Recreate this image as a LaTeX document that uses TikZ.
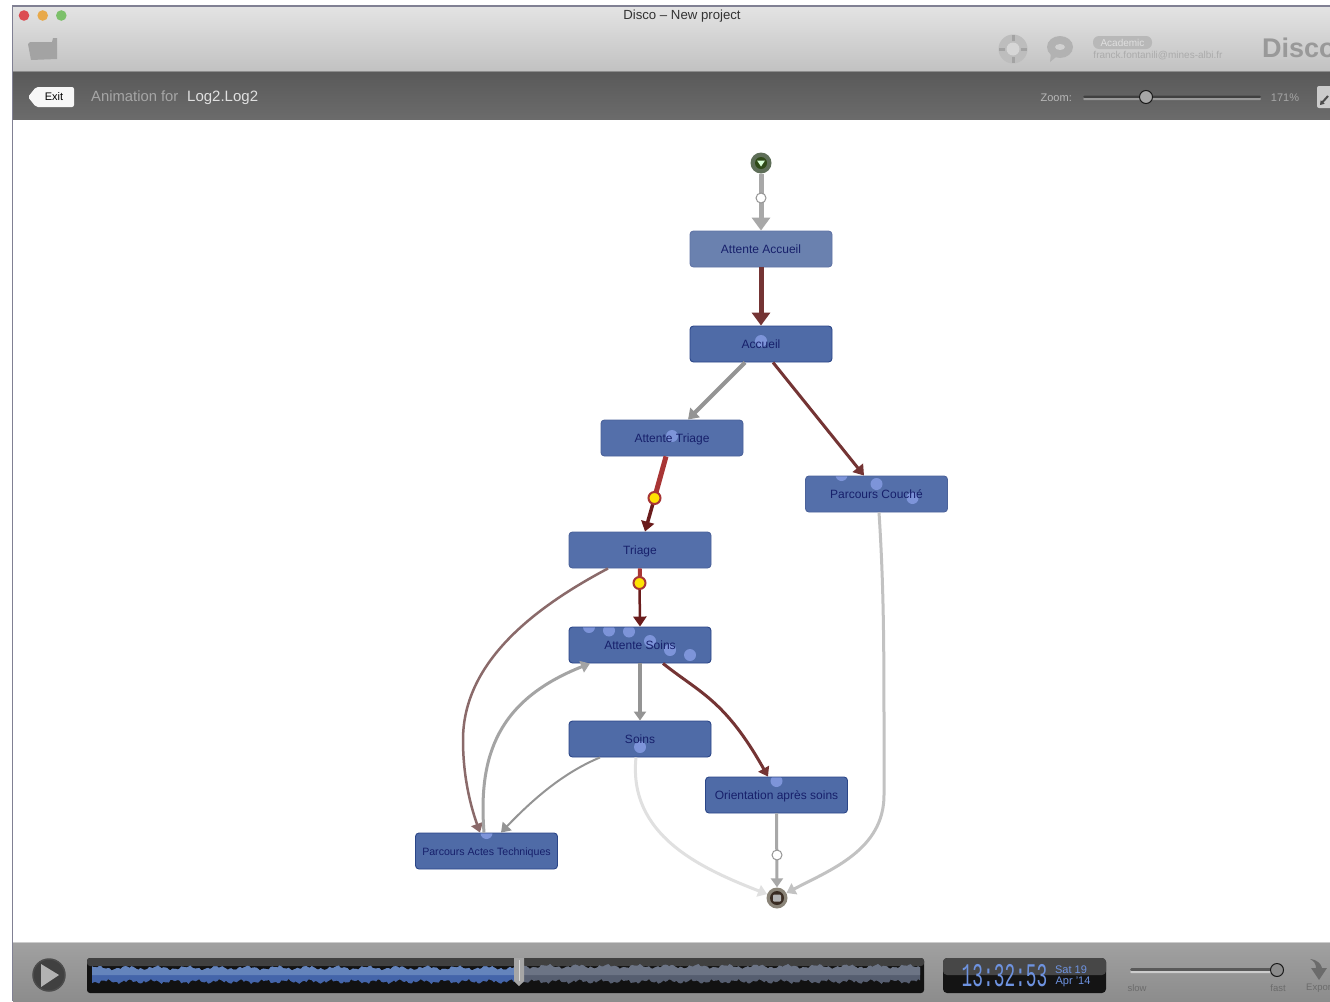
\documentclass[tikz,border=0pt]{standalone}
\usepackage{fontspec}
\setmainfont{Liberation Sans}
\newfontfamily\clockfont{Liberation Mono}
\usetikzlibrary{arrows.meta,calc}
\definecolor{nodefill}{HTML}{4F6BA7}
\definecolor{nodepale}{HTML}{6A81AF}
\definecolor{nodeline}{HTML}{2B4688}
\definecolor{nodetext}{HTML}{17206B}
\definecolor{dotc}{HTML}{7D94D9}
\definecolor{edgegrey}{HTML}{949494}
\definecolor{edgelight}{HTML}{A8A8A8}
\definecolor{edgepale}{HTML}{C2C2C2}
\definecolor{edgefaint}{HTML}{E0E0E0}
\definecolor{edgewine}{HTML}{743434}
\definecolor{edgedark}{HTML}{6A1C1C}
\definecolor{edgered}{HTML}{A83535}
\definecolor{edgedusk}{HTML}{8A6A6A}
\definecolor{clockblue}{HTML}{6E93E0}
\definecolor{waveblue}{HTML}{6484BC}
\definecolor{wavedeep}{HTML}{4465AA}
\definecolor{wavegrey}{HTML}{6C7485}
\definecolor{waveslate}{HTML}{565E70}
\definecolor{lightred}{HTML}{DC4C52}
\definecolor{lightamber}{HTML}{E8A94A}
\definecolor{lightgreen}{HTML}{7CC06A}
\definecolor{startrim}{HTML}{5E6E58}
\definecolor{startcore}{HTML}{2F4A18}
\definecolor{endrim}{HTML}{8A8478}
\definecolor{endcore}{HTML}{3A2C22}
\newcommand{\fs}[1]{\fontsize{#1}{#1}\selectfont}
\newcommand{\tokdot}[2]{\fill[dotc] ([shift={(#1,#2)}]path picture bounding box.center) circle (6);}
\pgfmathdeclarefunction{wavetop}{1}{\pgfmathparse{1.4*sin(mod(#1,90)*12)+0.9*sin(mod(#1,90)*44)+0.4*sin(mod(#1,90)*80)}}
\pgfmathdeclarefunction{wavebot}{1}{\pgfmathparse{1.3*sin(mod(#1,90)*16)+1.0*sin(mod(#1,90)*52)+0.5*sin(mod(#1,90)*92)}}
\tikzset{
  x=1pt,y=-1pt,
  stage/.style={rectangle,rounded corners=3.5pt,draw=nodeline,line width=.9pt,fill=nodefill,
    minimum width=142pt,minimum height=36pt,inner sep=0pt,text=nodetext,font=\fs{12},
    text height=9pt,text depth=0pt},
  palestage/.style={stage,fill=nodepale,draw=nodeline!75!white},
  softstage/.style={stage,draw=nodeline!85!white,fill=nodefill!97!white},
  bighead/.style={-{Triangle[length=13pt,width=18pt]}},
  midhead/.style={-{Triangle[length=10pt,width=13pt]}},
  smallhead/.style={-{Triangle[length=9pt,width=12pt]}},
  passive/.style={circle,draw=edgegrey,fill=white,line width=1pt,inner sep=0pt,minimum size=10pt},
  hot/.style={circle,draw=edgered,fill=yellow!85!orange,line width=2pt,inner sep=0pt,minimum size=12pt},
  ui/.style={inner sep=0pt,anchor=center},
  uibase/.style={inner sep=0pt,anchor=base west},
}
\begin{document}
\begin{tikzpicture}
\useasboundingbox (0,0) rectangle (1330,1001);
\begin{scope}
\clip (0,0) rectangle (1330,1001);
\fill[white] (0,0) rectangle (1330,1001);
% window chrome
\shade[top color=black!11,bottom color=black!24] (13,7) rectangle (1330,71);
\shade[top color=black!65,bottom color=black!58] (13,71) rectangle (1330,119);
\draw[black!45,line width=1pt] (13,71.5) -- (1330,71.5);
\shade[top color=black!37,bottom color=black!45] (13,942) rectangle (1330,1001);
\draw[black!20,line width=.8pt] (13,942) -- (1330,942);
\draw[blue!15!black!50,line width=1.3pt] (12.5,6) -- (12.5,1001);
\draw[blue!15!black!50,line width=1.3pt] (12,6) -- (1330,6);
% traffic lights
\fill[lightred] (24,15.5) circle (5.3);
\fill[lightamber] (42.7,15.5) circle (5.3);
\fill[lightgreen] (61.3,15.5) circle (5.3);
\node[ui,font=\fs{13.2},text=black!80] (title) at (682,16) {Disco – New project};
% folder
\fill[black!36] (30,42) -- (52,42) -- (53,38) -- (57,38) -- (57,59) -- (31,60) -- (28,44) -- cycle;
% right toolbar
\fill[black!26] (1013,49) circle (14.5);
\draw[black!36,line width=3pt] (1013,35) -- (1013,41) (1013,57) -- (1013,63) (999,49) -- (1005,49) (1021,49) -- (1027,49);
\fill[black!16] (1013,49) circle (6.5);
\fill[black!30] (1060,47) ellipse (13 and 11);
\fill[black!30] (1051,53) -- (1056,57) -- (1050,62) -- cycle;
\fill[black!18] (1060,47) ellipse (5 and 3);
\fill[black!28,rounded corners=6pt] (1093,36) rectangle (1152,49);
\node[ui,font=\fs{10},text=black!12] (lic) at (1122.5,42.5) {Academic};
\node[ui,font=\fs{10},text=black!33] (mail) at (1158,56) {franck.fontanili@mines-albi.fr};
\node[uibase,font=\bfseries\fs{27},text=black!40] (brand) at (1262,57) {Disco};
% animation bar
\fill[black!3,rounded corners=2pt] (36,87) -- (74,87) -- (74,107) -- (36,107) -- (28,97) -- cycle;
\node[ui,font=\fs{11},text=black] (exit) at (54,97) {Exit};
\node[uibase,font=\fs{14.8},text=black!35] (anim) at (91,101) {Animation for};
\node[uibase,font=\fs{15},text=black!12] (logname) at (187,101) {Log2.Log2};
\node[ui,font=\fs{11},text=black!28,anchor=east] (zoomlab) at (1072,97.5) {Zoom:};
\fill[black!75,rounded corners=1.5pt] (1083,95.5) rectangle (1261,98);
\fill[black!40,rounded corners=1pt] (1083,98) rectangle (1261,100);
\node[circle,draw=black!90,line width=1pt,fill=black!35,minimum size=13pt,inner sep=0pt] (zoomknob) at (1146,97) {};
\node[ui,font=\fs{11},text=black!35] (zoompct) at (1285,97.5) {171\%};
\fill[black!20,rounded corners=2pt] (1317,86) rectangle (1340,108);
\draw[black!70,line width=2pt,{Triangle[length=4pt,width=5pt]}-] (1320,105) -- (1328,96);
% play
\node[circle,draw=black!70,line width=1.5pt,fill=black!75,minimum size=32pt,inner sep=0pt] (play) at (49,975) {};
\fill[black!30] (41,964) -- (59,975) -- (41,987) -- cycle;
% timeline
\fill[black!93,rounded corners=3pt] (87,958) rectangle (924,993);
\fill[black!75,rounded corners=3pt] (87,958) rectangle (924,966);
\fill[waveslate] plot[domain=519:920,samples=220] (\x,{966.5-wavetop(\x)}) -- plot[domain=920:519,samples=220] (\x,{981.5+wavebot(\x)}) -- cycle;
\fill[wavegrey] plot[domain=519:920,samples=220] (\x,{966.5-wavetop(\x)}) -- (920,975) -- (519,975) -- cycle;
\fill[wavedeep] plot[domain=92:519,samples=240] (\x,{968-wavetop(\x)}) -- plot[domain=519:92,samples=240] (\x,{981.5+wavebot(\x)}) -- cycle;
\fill[waveblue] plot[domain=92:519,samples=240] (\x,{968-wavetop(\x)}) -- (519,975) -- (92,975) -- cycle;
\fill[black!35] (514,958) -- (524,958) -- (524,981) -- (519,986) -- (514,981) -- cycle;
\draw[black!15,line width=1pt] (519,960) -- (519,981);
% clock
\fill[black!92,rounded corners=4pt] (943,958) rectangle (1106,993);
\fill[black!72,rounded corners=4pt] (943,958) rectangle (1106,975);
\node[ui,font=\clockfont\fs{33},text=clockblue,xscale=.54] (clock) at (1004.5,976) {13:32:53};
\node[ui,font=\fs{11},text=clockblue] (dateone) at (1071,969.5) {Sat 19};
\node[ui,font=\fs{11},text=clockblue] (datetwo) at (1073,982) {Apr '14};
% speed
\fill[black!65,rounded corners=1.5pt] (1130,968) rectangle (1280,971);
\fill[black!20,rounded corners=1pt] (1130,971) rectangle (1280,973);
\node[circle,draw=black!90,line width=1pt,fill=black!45,minimum size=13pt,inner sep=0pt] (speedknob) at (1277,970) {};
\node[ui,font=\fs{9.5},text=black!58] (slow) at (1137,988) {slow};
\node[ui,font=\fs{9.5},text=black!58] (fast) at (1278,988) {fast};
\node[ui,anchor=west,font=\fs{9.5},text=black!58] (export) at (1306,988) {Export};
\fill[black!58] (1310,959) .. controls (1318,960) and (1321,964) .. (1322,968) -- (1327,968) -- (1319,980) -- (1311,968) -- (1316,968) .. controls (1316,964) and (1314,961) .. (1310,959) -- cycle;
% stages
\node[palestage] (aa) at (761,249) {Attente Accueil};
\node[stage,path picture={\tokdot{0}{-3}}] (acc) at (761,344) {Accueil};
\node[softstage,path picture={\tokdot{0}{-2}}] (at) at (672,438) {Attente Triage};
\node[softstage,path picture={\tokdot{-35}{-19}\tokdot{0}{-10}\tokdot{36}{4}}] (pc) at (876.5,494) {Parcours Couché};
\node[softstage] (tr) at (640,550) {Triage};
\node[stage,path picture={\tokdot{-51}{-18}\tokdot{-31}{-14.5}\tokdot{-11}{-13.5}\tokdot{10}{-4}\tokdot{30}{5}\tokdot{50}{10}}] (as) at (640,645) {Attente Soins};
\node[stage,path picture={\tokdot{0}{8}}] (so) at (640,739) {Soins};
\node[stage,path picture={\tokdot{0}{-14}}] (or) at (776.5,795) {Orientation après soins};
\node[stage,font=\fs{10.6},path picture={\tokdot{0}{-18}}] (pa) at (486.5,851) {Parcours Actes Techniques};
% start and end
\node[circle,fill=startrim,minimum size=21pt,inner sep=0pt] (start) at (761,163) {};
\fill[startcore] (761,163) circle (6);
\fill[white!85!green] (757,160.5) -- (765,160.5) -- (761,166.5) -- cycle;
\node[circle,fill=endrim,minimum size=21pt,inner sep=0pt] (end) at (777,898) {};
\fill[endcore] (777,898) circle (7);
\fill[black!30,rounded corners=1pt] (773,894.5) rectangle (781,901.5);
% way-points of the tokens
\coordinate (ta) at (654.5,498);
\coordinate (tb) at (639.5,583);
% connectors
\draw[edgelight,line width=5pt,bighead] (start) -- (aa.north);
\draw[edgewine,line width=5pt,bighead] (aa.south) -- (acc.north);
\draw[edgegrey,line width=4pt,midhead] ([xshift=-16pt]acc.south) -- ([xshift=16pt]at.north);
\draw[edgewine,line width=3pt,midhead] ([xshift=12pt]acc.south) -- ([xshift=-12.5pt]pc.north);
\draw[edgered,line width=5pt] ([xshift=-6pt]at.south) -- (ta);
\draw[edgedark,line width=3.5pt,midhead] (ta) -- ([xshift=5pt]tr.north);
\draw[edgered,line width=4pt] (tr.south) -- (tb);
\draw[edgedark,line width=2.5pt,midhead] (tb) -- (as.north);
\draw[edgedusk,line width=2.5pt,smallhead] ([xshift=-32pt]tr.south) .. controls (520,615) and (463,670) .. (463,740) .. controls (463,780) and (472,810) .. ([xshift=-6.5pt]pa.north);
\draw[edgegrey!85!white,line width=3pt,smallhead] ([xshift=-2.5pt]pa.north) .. controls (478,755) and (498,700) .. ([xshift=-50pt]as.south);
\draw[edgegrey,line width=3.5pt,smallhead] (as.south) -- (so.north);
\draw[edgewine,line width=3pt,smallhead] ([xshift=23pt]as.south) .. controls (700,693) and (725,700) .. ([xshift=-8.5pt]or.north);
\draw[edgegrey,line width=2pt,smallhead] ([xshift=-40pt]so.south) .. controls (565,772) and (535,797) .. ([xshift=14.5pt]pa.north);
\draw[edgefaint,line width=3pt,smallhead] ([xshift=-4pt]so.south) .. controls (628,835) and (700,868) .. (end);
\draw[edgelight,line width=3pt,smallhead] (or.south) -- (end.north);
\draw[edgepale,line width=3pt,smallhead] ([xshift=2.5pt]pc.south) .. controls (884,590) and (884,650) .. (884,750) -- (884,795) .. controls (884,850) and (830,870) .. (end);
% tokens
\node[passive] (pta) at (761,198) {};
\node[passive] (ptb) at (777,855) {};
\node[hot] (tok1) at (ta) {};
\node[hot] (tok2) at (tb) {};
\end{scope}
\end{tikzpicture}
\end{document}
